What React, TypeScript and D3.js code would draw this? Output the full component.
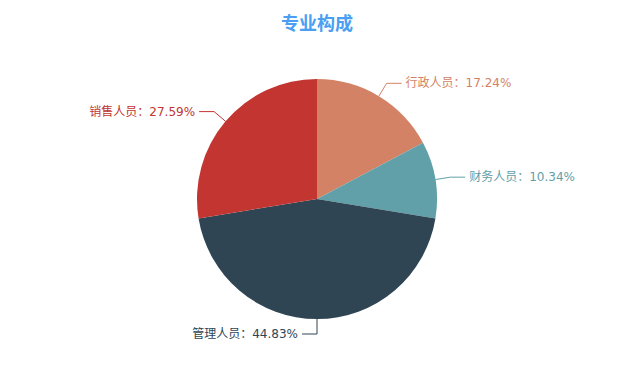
import React from "react";
import * as d3 from "d3";

const categories = ["行政人员", "财务人员", "管理人员", "销售人员"];
const values = [5, 3, 13, 8];
const colors = ["#d48265", "#61a0a8", "#2f4554", "#c23531"];
const title = "专业构成";

const W = 618;
const H = 382;
const cx = 317;
const cy = 199;
const R = 120;
const len1 = 15;
const len2 = 15;
const gap = 4;

export default function App() {
  const total = d3.sum(values);
  const pie = d3.pie<number>().sort(null).value((d) => d);
  const arcs = pie(values);
  const arcGen = d3.arc<d3.PieArcDatum<number>>().innerRadius(0).outerRadius(R);

  return (
    <svg
      width={W}
      height={H}
      style={{ position: "absolute", left: 0, top: 0, background: "#fff" }}
      fontFamily="'DejaVu Sans', 'Noto Sans CJK SC', sans-serif"
    >
      <text
        x={cx}
        y={22}
        textAnchor="middle"
        dominantBaseline="central"
        fontSize={18}
        fontWeight="bold"
        fontFamily="'Noto Sans CJK SC', sans-serif"
        fill="#4a9ff2"
      >
        {title}
      </text>
      <g transform={`translate(${cx},${cy})`}>
        {arcs.map((a, i) => (
          <path key={i} d={arcGen(a) || ""} fill={colors[i]} />
        ))}
        {arcs.map((a, i) => {
          const mid = (a.startAngle + a.endAngle) / 2;
          const sx = Math.sin(mid);
          const sy = -Math.cos(mid);
          const x1 = R * sx;
          const y1 = R * sy;
          const x2 = (R + len1) * sx;
          const y2 = (R + len1) * sy;
          const dir = x2 >= -0.5 ? (Math.abs(sx) < 0.01 ? -1 : 1) : -1;
          const x3 = x2 + dir * len2;
          const pct = ((values[i] / total) * 100).toFixed(2);
          return (
            <g key={"l" + i}>
              <polyline
                points={`${x1},${y1} ${x2},${y2} ${x3},${y2}`}
                fill="none"
                stroke={colors[i]}
                strokeWidth={1}
              />
              <text
                x={x3 + dir * gap}
                y={y2}
                textAnchor={dir > 0 ? "start" : "end"}
                dominantBaseline="central"
                fontSize={12}
                fill={colors[i]}
              >
                {`${categories[i]}：${pct}%`}
              </text>
            </g>
          );
        })}
      </g>
    </svg>
  );
}
